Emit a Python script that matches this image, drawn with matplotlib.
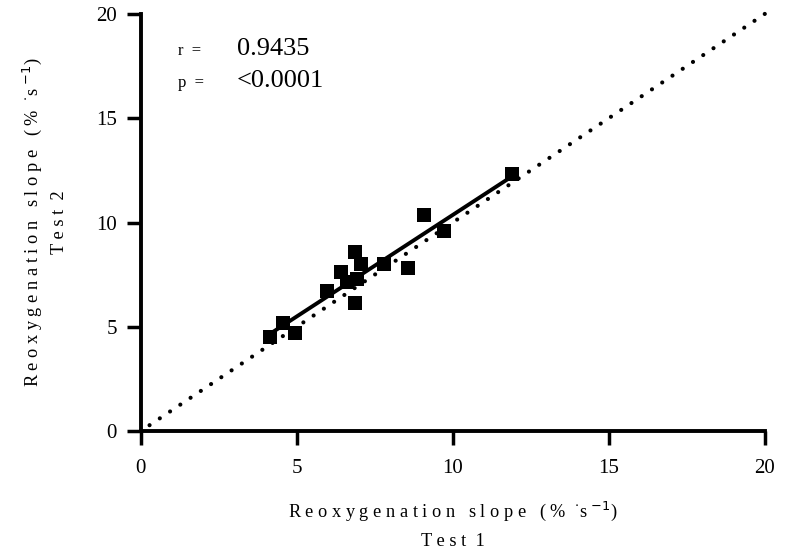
import matplotlib.pyplot as plt
import numpy as np

plt.rcParams['font.family'] = ['Liberation Serif', 'DejaVu Serif']

# Test 1 vs Test 2 reoxygenation slopes (%·s^-1)
test1 = np.array([4.13, 4.56, 4.93, 5.98, 6.42, 6.60, 6.87, 7.07, 6.93, 6.87,
                  7.80, 8.57, 9.07, 9.72, 11.90])
test2 = np.array([4.52, 5.17, 4.68, 6.73, 7.63, 7.16, 8.57, 8.01, 7.29, 6.14,
                  8.00, 7.83, 10.34, 9.59, 12.33])
r_text = '0.9435'
p_text = '<0.0001'
ticks = [0, 5, 10, 15, 20]

fig = plt.figure(figsize=(7.86, 5.57), dpi=100)
ax = fig.add_axes([0.179, 0.226, 0.794, 0.749])

# line of identity (drawn from the top so a dot lands on 20,20)
ident = np.array([20.0, 0.25])
ax.plot(ident, ident, color='black', linestyle=(0, (0.01, 2.95)), linewidth=3,
        dash_capstyle='round', zorder=1, clip_on=False)

# regression line
slope, icpt = np.polyfit(test1, test2, 1)
xfit = np.array([test1.min(), test1.max()])
ax.plot(xfit, slope * xfit + icpt, color='black', linewidth=2.8, zorder=2)

ax.scatter(test1, test2, marker='s', s=95, color='black', linewidths=0, zorder=3)

ax.set_xlim(0, 20)
ax.set_ylim(0, 20)
ax.set_xticks(ticks)
ax.set_yticks(ticks)
ax.tick_params(direction='out', length=10, width=2.5, labelsize=15)
ax.tick_params(axis='x', pad=10)
ax.tick_params(axis='y', pad=7)
for s in ['top', 'right']:
    ax.spines[s].set_visible(False)
for s in ['left', 'bottom']:
    ax.spines[s].set_linewidth(2.8)

lab1 = 'R e o x y g e n a t i o n   s l o p e   ( %  $^{\\cdot}$s $^{-1}$)\nT e s t  1'
lab2 = 'R e o x y g e n a t i o n   s l o p e   ( %  $^{\\cdot}$s $^{-1}$)\nT e s t  2'
ax.set_xlabel(lab1, fontsize=13.2, labelpad=16, linespacing=1.75)
ax.set_ylabel(lab2, fontsize=13.2, labelpad=20, linespacing=1.6)

ax.text(0.06, 0.902, 'r  =', transform=ax.transAxes, fontsize=12, va='baseline')
ax.text(0.154, 0.902, r_text, transform=ax.transAxes, fontsize=19, va='baseline')
ax.text(0.06, 0.825, 'p  =', transform=ax.transAxes, fontsize=12, va='baseline')
ax.text(0.154, 0.825, p_text, transform=ax.transAxes, fontsize=19, va='baseline')

fig.savefig('out.png', dpi=100)
